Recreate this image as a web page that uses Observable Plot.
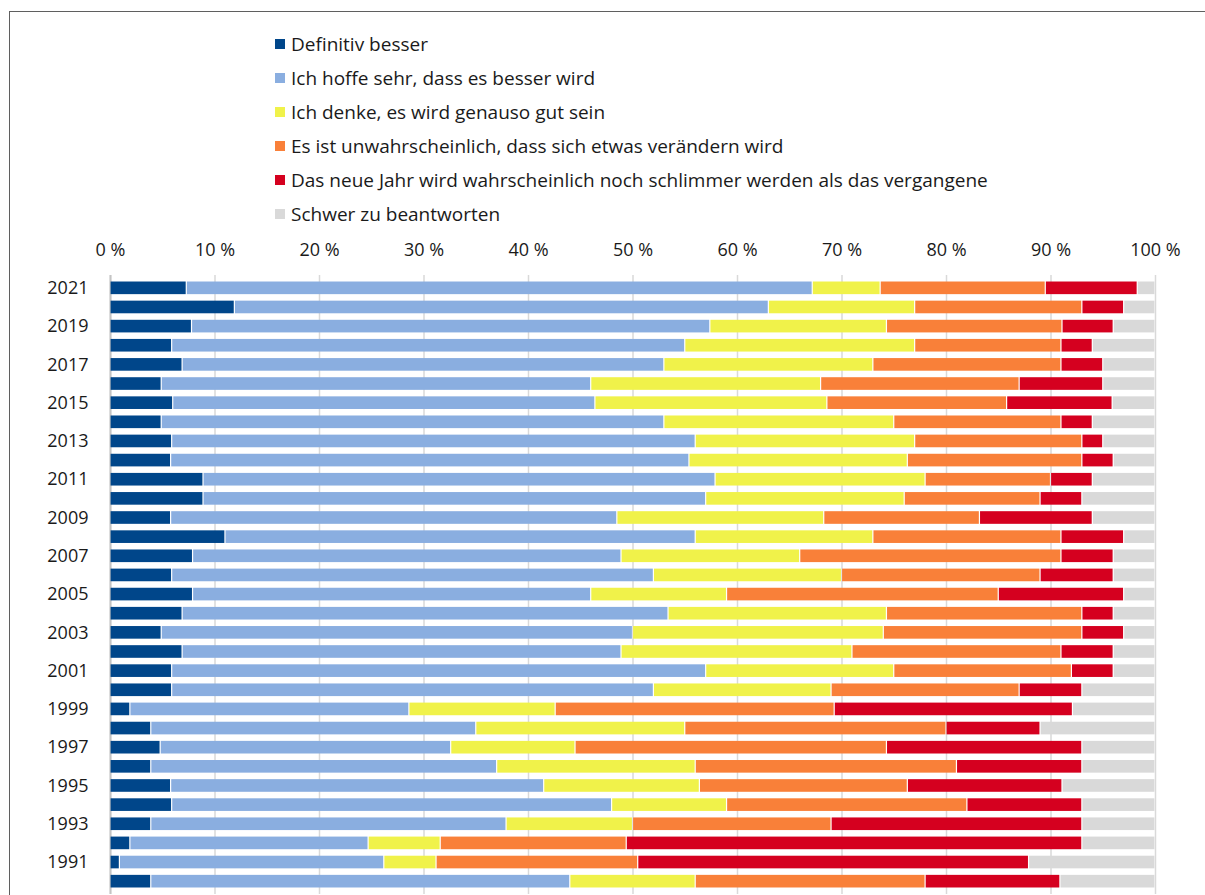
<!DOCTYPE html>
<html>
<head>
<meta charset="utf-8">
<script src="https://cdn.jsdelivr.net/npm/d3@7"></script>
<script src="https://cdn.jsdelivr.net/npm/@observablehq/plot@0.6"></script>
<style>
  html, body { margin: 0; padding: 0; background: #fff; }
  #wrap { position: relative; width: 1205px; height: 895px; overflow: hidden; font-family: "Open Sans", sans-serif; color: #1a1a1a; }
  #frame { position: absolute; left: 9px; top: 11px; width: 1300px; height: 1000px; border-left: 1.5px solid #5f5f5f; border-top: 1.5px solid #5f5f5f; pointer-events: none; }
  #legend { box-sizing: border-box; height: 231px; padding-top: 27px; padding-left: 275px; }
  .item { height: 34px; line-height: 34px; font-size: 19px; display: flex; align-items: center; white-space: nowrap; }
  .sw { width: 10px; height: 10px; margin-right: 6px; flex: none; }
  #chart svg { display: block; }
</style>
</head>
<body>
<div id="wrap">
  <div id="frame"></div>
  <div id="legend"></div>
  <div id="chart"></div>
</div>
<script>
const categories = [
  "Definitiv besser",
  "Ich hoffe sehr, dass es besser wird",
  "Ich denke, es wird genauso gut sein",
  "Es ist unwahrscheinlich, dass sich etwas verändern wird",
  "Das neue Jahr wird wahrscheinlich noch schlimmer werden als das vergangene",
  "Schwer zu beantworten"
];
const colors = ["#00468a", "#8aaee0", "#f0f24a", "#f98039", "#d5001f", "#d9d9d9"];

const years = [2021, 2020, 2019, 2018, 2017, 2016, 2015, 2014, 2013, 2012, 2011, 2010, 2009, 2008, 2007, 2006,
               2005, 2004, 2003, 2002, 2001, 2000, 1999, 1998, 1997, 1996, 1995, 1994, 1993, 1992, 1991, 1990];

const definitivBesser = [7.3, 11.9, 7.8, 5.9, 6.9, 4.9, 6.0, 4.9, 5.9, 5.8, 8.9, 8.9, 5.8, 11.0, 7.9, 5.9,
                         7.9, 6.9, 4.9, 6.9, 5.9, 5.9, 1.9, 3.9, 4.8, 3.9, 5.8, 5.9, 3.9, 1.9, 0.9, 3.9];
const hoffeBesser     = [59.9, 51.1, 49.6, 49.1, 46.1, 41.1, 40.4, 48.1, 50.1, 49.6, 49.0, 48.1, 42.7, 45.0, 41.0, 46.1,
                         38.1, 46.5, 45.1, 42.0, 51.1, 46.1, 26.7, 31.1, 27.8, 33.1, 35.7, 42.1, 34.0, 22.8, 25.3, 40.1];
const genausoGut      = [6.5, 14.0, 16.9, 22.0, 20.0, 22.0, 22.2, 22.0, 21.0, 20.9, 20.1, 19.0, 19.8, 17.0, 17.1, 18.0,
                         13.0, 20.9, 24.0, 22.1, 18.0, 17.0, 14.0, 20.0, 11.9, 19.0, 14.9, 11.0, 12.1, 6.9, 5.0, 12.0];
const unwahrscheinlich= [15.8, 16.0, 16.8, 14.0, 18.0, 19.0, 17.2, 16.0, 16.0, 16.7, 12.0, 13.0, 14.9, 18.0, 25.0, 19.0,
                         26.0, 18.7, 19.0, 20.0, 17.0, 18.0, 26.7, 25.0, 29.8, 25.0, 19.9, 23.0, 19.0, 17.8, 19.3, 22.0];
const schlimmer       = [8.8, 4.0, 4.9, 3.0, 4.0, 8.0, 10.1, 3.0, 2.0, 3.0, 4.0, 4.0, 10.8, 6.0, 5.0, 7.0,
                         12.0, 3.0, 4.0, 5.0, 4.0, 6.0, 22.8, 9.0, 18.7, 12.0, 14.8, 11.0, 24.0, 43.6, 37.4, 12.9];
const schwer          = [1.7, 3.0, 4.0, 6.0, 5.0, 5.0, 4.1, 6.0, 5.0, 4.0, 6.0, 7.0, 6.0, 3.0, 4.0, 4.0,
                         3.0, 4.0, 3.0, 4.0, 4.0, 7.0, 7.9, 11.0, 7.0, 7.0, 8.9, 7.0, 7.0, 7.0, 12.1, 9.1];

const xTicks = [0, 10, 20, 30, 40, 50, 60, 70, 80, 90, 100];
const yearLabels = years.filter(y => y % 2 === 1).map(String);

const series = [definitivBesser, hoffeBesser, genausoGut, unwahrscheinlich, schlimmer, schwer];
const data = [];
years.forEach((yr, i) => {
  categories.forEach((c, k) => data.push({year: String(yr), category: c, value: series[k][i]}));
});

// legend
const legend = document.getElementById("legend");
categories.forEach((c, k) => {
  const row = document.createElement("div");
  row.className = "item";
  const sw = document.createElement("span");
  sw.className = "sw";
  sw.style.background = colors[k];
  const t = document.createElement("span");
  t.textContent = c;
  row.appendChild(sw); row.appendChild(t);
  legend.appendChild(row);
});

const chart = Plot.plot({
  width: 1205,
  height: 664,
  marginLeft: 110,
  marginRight: 50,
  marginTop: 44,
  marginBottom: 1,
  style: {fontFamily: "Open Sans, sans-serif", fontSize: "18px", color: "#1a1a1a", background: "transparent"},
  x: {domain: [0, 100], label: null},
  y: {domain: years.map(String), padding: 0.34, round: false, label: null},
  color: {domain: categories, range: colors},
  marks: [
    Plot.gridX(xTicks, {stroke: "#d9d9d9", strokeOpacity: 1, strokeWidth: 1.5}),
    Plot.ruleX([0], {stroke: "#c4c4c4", strokeWidth: 2}),
    Plot.barX(data, {x: "value", y: "year", fill: "category", insetLeft: 0.6, insetRight: 0.6}),
    Plot.axisX(xTicks, {anchor: "top", tickSize: 0, tickPadding: 20, tickFormat: d => d + " %", fontSize: 18, label: null}),
    Plot.axisY(yearLabels, {anchor: "left", tickSize: 0, tickPadding: 22, fontSize: 18, label: null})
  ]
});
document.getElementById("chart").appendChild(chart);
</script>
</body>
</html>
